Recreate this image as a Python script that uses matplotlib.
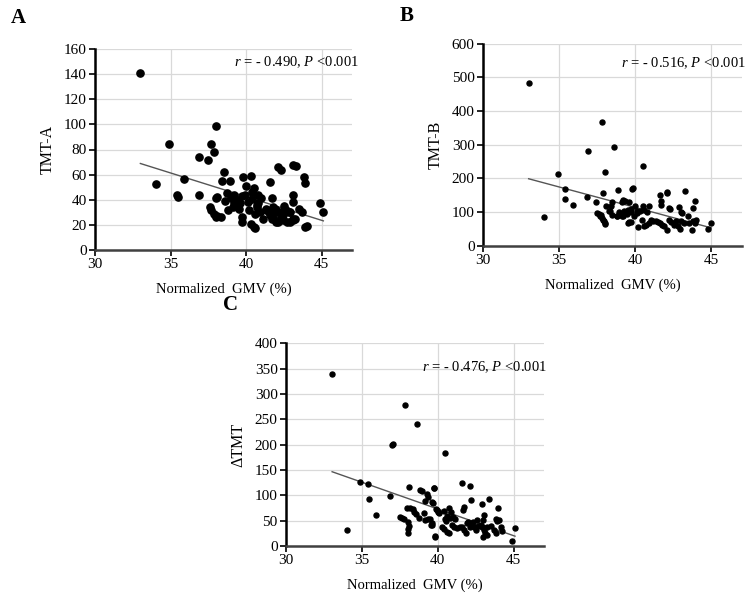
import numpy as np
import matplotlib
matplotlib.use('Agg')
import matplotlib.pyplot as plt

plt.rcParams['font.family'] = ['Liberation Serif', 'DejaVu Serif']
plt.rcParams['mathtext.fontset'] = 'custom'
plt.rcParams['mathtext.rm'] = 'Liberation Serif'
plt.rcParams['mathtext.it'] = 'Liberation Serif:italic'

# panel A: normalized GMV vs TMT-A
gmv_a = [33.0, 34.0, 34.9, 35.4, 35.5, 35.9, 36.9, 36.9, 37.5, 37.7, 37.9, 38.0, 38.5, 38.4,
         38.9, 38.0, 38.1, 37.6, 37.7, 37.9, 38.0, 38.3, 38.1, 38.7, 38.8, 39.1, 39.2, 39.2,
         39.4, 39.6, 39.7, 39.7, 39.7, 39.8, 40.0, 40.3, 40.5, 40.4, 40.3, 40.6, 40.7, 40.9,
         40.8, 40.8, 41.1, 41.3, 41.5, 41.6, 41.6, 41.8, 41.7, 41.9, 42.0, 42.0, 42.1, 42.3,
         42.2, 42.4, 42.6, 42.8, 42.7, 42.9, 43.1, 43.3, 43.1, 43.1, 43.1, 43.2, 43.7, 43.8,
         43.9, 43.9, 44.0, 44.9, 45.1, 40.6, 40.2, 41.7, 41.8, 42.1, 42.3, 42.4, 42.9, 43.1,
         40.7, 41.3, 40.5, 38.6, 39.0, 39.5, 40.1, 41.0, 42.5, 43.5, 39.9, 40.4]
tmt_a = [141, 52.7, 84, 44, 42.5, 56.7, 43.5, 74, 72, 84, 78, 99, 62, 55,
         55, 41, 42.5, 34, 32, 29, 26, 26.5, 27, 45.6, 32, 34.5, 37, 44,
         40, 37, 43, 26.5, 22, 58, 51, 59, 49, 46, 21, 17.5, 34.5, 30.5,
         44, 37, 24.4, 32, 30.5, 54, 28, 26.5, 41.6, 33, 32, 22.5, 66, 64,
         30, 28, 32, 30, 22.5, 22, 68, 67, 44, 38.5, 24, 25, 30, 58,
         53.5, 18.5, 19, 37, 30, 29, 32, 25, 34.5, 22.5, 26.5, 24, 30.5, 24.5,
         35.8, 33, 18.5, 39, 41, 33, 38, 41, 35, 33, 44, 40.5]

# panel B: normalized GMV vs TMT-B
gmv_b = [33.0, 34.0, 34.9, 35.4, 35.4, 35.9, 36.9, 36.8, 37.4, 37.8, 38.0, 37.9, 38.6, 37.6,
         37.7, 38.1, 38.5, 38.4, 38.3, 37.9, 38.0, 38.0, 38.8, 38.9, 39.8, 39.85, 39.2, 39.2,
         39.3, 39.1, 39.6, 39.5, 39.7, 39.5, 39.7, 40.0, 40.1, 40.2, 40.5, 40.5, 40.6, 40.9,
         41.6, 41.7, 41.7, 42.1, 42.1, 42.2, 42.3, 42.9, 43.0, 43.1, 43.3, 43.8, 43.9, 43.8,
         45.0, 44.8, 37.5, 37.72, 37.83, 37.98, 38.34, 38.49, 38.78, 38.93, 39.15, 39.26, 39.48,
         39.59, 39.7, 39.92, 40.14, 40.32, 40.47, 40.58, 40.69, 40.8, 40.91, 41.06, 41.2, 41.35,
         41.5, 41.64, 41.79, 41.9, 42.08, 42.23, 42.34, 42.52, 42.67, 42.78, 42.96, 43.0, 43.22,
         43.44, 43.55, 43.7, 43.92, 43.99]
tmt_b = [484, 85, 213, 169, 140, 122, 281, 145, 130, 367, 218, 156, 293, 94,
         89, 119, 129, 119, 103, 77, 69, 65, 87, 166, 170, 172, 87, 137,
         132, 129, 129, 105, 109, 69, 72, 117, 102, 56, 238, 119, 107, 119,
         152, 132, 122, 157, 161, 112, 110, 115, 100, 97, 162, 112, 132, 75,
         68, 50, 97, 92, 82, 75, 102, 92, 87, 99, 89, 102, 95,
         70, 99, 87, 97, 102, 77, 58, 63, 99, 68, 77, 75, 73,
         70, 68, 63, 58, 48, 77, 70, 63, 73, 58, 50, 73, 68,
         87, 68, 48, 68, 77]

# panel C: normalized GMV vs delta TMT
gmv_c = [33.04, 34.05, 34.89, 35.4, 35.47, 35.93, 36.87, 37.0, 37.05, 37.82, 38.66, 38.08,
         38.86, 38.95, 39.3, 39.34, 39.19, 39.78, 39.63, 39.87, 40.0, 37.98, 38.2, 38.37,
         38.46, 38.55, 37.49, 37.65, 37.8, 38.04, 38.08, 38.04, 38.02, 38.74, 39.12, 39.19,
         39.34, 39.65, 39.56, 39.8, 40.51, 39.74, 41.61, 42.11, 42.16, 42.93, 43.37, 41.65,
         41.76, 43.04, 43.0, 43.99, 43.81, 43.93, 44.03, 45.09, 44.91, 39.7, 39.96, 40.07,
         40.4, 40.51, 40.57, 40.62, 40.73, 40.88, 40.84, 41.01, 41.17, 40.29, 40.44, 40.62,
         40.73, 39.85, 40.95, 41.1, 41.28, 41.46, 41.61, 41.72, 41.83, 41.94, 42.12, 42.27,
         42.38, 42.49, 42.65, 42.82, 42.93, 43.04, 43.09, 43.0, 43.22, 43.26, 43.48, 43.7,
         43.81, 44.14, 44.25, 41.98, 42.34, 42.6, 39.52, 39.63]
dtmt_c = [340, 31, 127, 122, 93, 62, 98.5, 200, 201, 279, 241, 116,
          110, 108, 102, 97, 89, 115, 86, 72, 67.6, 75.5, 75.5, 73.5,
          67.6, 63, 56.5, 56, 54, 48, 39, 33, 26, 54.5, 64.4, 51,
          52.5, 44.7, 41.4, 20, 183, 115, 125, 119, 91, 83, 93, 71,
          77.5, 61, 51, 75, 53, 49, 51, 35, 10.5, 84, 71, 66,
          69, 54, 50, 59, 74, 68, 55, 57, 53, 37, 33, 28,
          25, 18, 41, 37, 35, 38, 37, 32, 26, 45, 37, 41,
          38, 32, 39, 41, 37, 32, 25, 18, 37, 22, 39, 32,
          25, 37, 30, 48, 48, 51, 54, 41]

panels = [
    ('A', gmv_a, tmt_a, 'TMT-A', 160, 20, r'$\it{r}$ = - 0.490, $\it{P}$ <0.001',
     [0.1267, 0.582, 0.3427, 0.336], 5.2, (1.025, 0.935)),
    ('B', gmv_b, tmt_b, 'TMT-B', 600, 100, r'$\it{r}$ = - 0.516, $\it{P}$ <0.001',
     [0.644, 0.589, 0.345, 0.338], 3.6, (1.015, 0.905)),
    ('C', gmv_c, dtmt_c, '\u0394TMT', 400, 50, r'$\it{r}$ = - 0.476, $\it{P}$ <0.001',
     [0.3813, 0.087, 0.344, 0.339], 3.6, (1.01, 0.882)),
]
letter_pos = {'A': (0.014, 0.962), 'B': (0.533, 0.965), 'C': (0.297, 0.481)}

fig = plt.figure(figsize=(7.5, 5.98), dpi=100)
for name, x, y, ylab, ymax, ystep, note, rect, ms, npos in panels:
    ax = fig.add_axes(rect)
    x = np.array(x); y = np.array(y)
    ax.plot(x, y, 'o', color='black', ms=ms, mec='black', zorder=3)
    # linear trend line
    k, b = np.polyfit(x, y, 1)
    xl = np.array([x.min(), x.max()])
    ax.plot(xl, k*xl + b, color='#555555', lw=1.0, zorder=2)
    ax.set_xlim(30, 47)
    ax.set_ylim(0, ymax)
    ax.set_xticks([30, 35, 40, 45])
    ax.set_yticks(np.arange(0, ymax + 1, ystep))
    ax.grid(True, color='#d9d9d9', lw=0.9)
    ax.set_axisbelow(True)
    for s in ['top', 'right']:
        ax.spines[s].set_visible(False)
    ax.spines['left'].set_linewidth(1.8)
    ax.spines['bottom'].set_linewidth(1.8)
    ax.spines['bottom'].set_color('#404040')
    ax.tick_params(direction='out', length=4, width=1.2, labelsize=11, pad=2)
    ax.set_xlabel('Normalized  GMV (%)', fontsize=10.5, labelpad=8)
    ax.set_ylabel(ylab, fontsize=11.5, labelpad=6)
    ax.text(npos[0], npos[1], note, transform=ax.transAxes, ha='right', va='center', fontsize=10.5)
    fig.text(letter_pos[name][0], letter_pos[name][1], name, fontsize=15, fontweight='bold')

plt.savefig('out.png', dpi=100)
